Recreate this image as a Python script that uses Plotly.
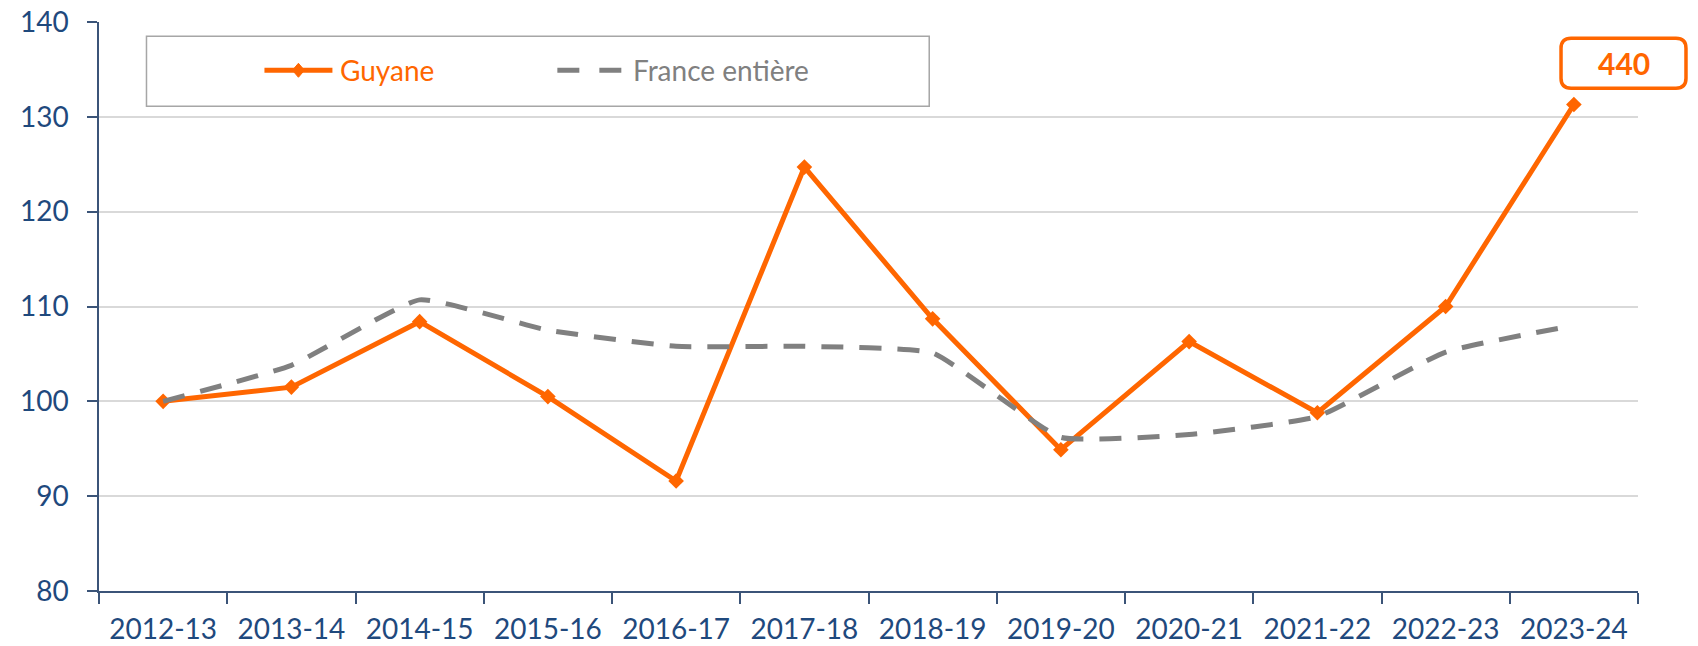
import plotly.graph_objects as go

categories = ["2012-13", "2013-14", "2014-15", "2015-16", "2016-17", "2017-18",
              "2018-19", "2019-20", "2020-21", "2021-22", "2022-23", "2023-24"]
guyane = [100, 101.5, 108.4, 100.5, 91.6, 124.7, 108.7, 94.9, 106.3, 98.8, 110.0, 131.3]
france = [100, 103.8, 110.7, 107.5, 105.8, 105.8, 105.1, 96.2, 96.5, 98.4, 105.2, 108.0]
series_names = ["Guyane", "France entière"]
last_label = "440"
y_ticks = [80, 90, 100, 110, 120, 130, 140]

ORANGE = "#FF6600"
GRAY = "#808080"
AXIS = "#3B5478"
TICKC = "#1F497D"
FONT = "Lato"

fig = go.Figure()
fig.add_trace(go.Scatter(
    x=categories, y=guyane, mode="lines+markers", name=series_names[0],
    line=dict(color=ORANGE, width=5),
    marker=dict(symbol="diamond", size=12, color=ORANGE),
    showlegend=False,
))
fig.add_trace(go.Scatter(
    x=categories, y=france, mode="lines", name=series_names[1],
    line=dict(color=GRAY, width=5, dash="22px,16px", shape="spline", smoothing=0.4),
    showlegend=False,
))

# page body has an 8px margin: figure is drawn at (8, 8) in the window
OFF = 8
W, H = 1690, 638
PL, PR, PT, PB = 98.5, 1638, 21.7, 591   # plot area in window pixels
pw, ph = PR - PL, PB - PT
ml, mt = PL - OFF, PT - OFF
mr, mb = W - (PR - OFF), H - (PB - OFF)

def px_x(x):
    return (x - PL) / pw

def px_y(y):
    return 1 - (y - PT) / ph

# legend frame
fig.add_shape(type="rect", xref="paper", yref="paper",
              x0=px_x(146), x1=px_x(929), y0=px_y(106), y1=px_y(36),
              line=dict(color="#A6A6A6", width=1.5), fillcolor="white", layer="below")
ly = px_y(70)
# Guyane legend entry
fig.add_shape(type="line", xref="paper", yref="paper", x0=px_x(264), x1=px_x(332),
              y0=ly, y1=ly, line=dict(color=ORANGE, width=5))
dx, dy = 6 / pw, 7 / ph
cx = px_x(298)
fig.add_shape(type="path", xref="paper", yref="paper",
              path=f"M {cx-dx},{ly} L {cx},{ly+dy} L {cx+dx},{ly} L {cx},{ly-dy} Z",
              line=dict(color=ORANGE, width=1), fillcolor=ORANGE)
fig.add_annotation(xref="paper", yref="paper", x=px_x(338), y=ly, text=series_names[0],
                   showarrow=False, xanchor="left", yanchor="middle",
                   font=dict(family=FONT, size=28, color=ORANGE))
# France legend entry
fig.add_shape(type="line", xref="paper", yref="paper", x0=px_x(557), x1=px_x(621),
              y0=ly, y1=ly, line=dict(color=GRAY, width=5, dash="22px,20px"))
fig.add_annotation(xref="paper", yref="paper", x=px_x(631), y=ly, text=series_names[1],
                   showarrow=False, xanchor="left", yanchor="middle",
                   font=dict(family=FONT, size=28, color=GRAY))

# rounded box for last label
x0, x1 = px_x(1561), px_x(1686)
y0, y1 = px_y(88), px_y(38)
rx, ry = 10 / pw, 10 / ph
path = (f"M {x0+rx},{y1} L {x1-rx},{y1} Q {x1},{y1} {x1},{y1-ry} "
        f"L {x1},{y0+ry} Q {x1},{y0} {x1-rx},{y0} L {x0+rx},{y0} "
        f"Q {x0},{y0} {x0},{y0+ry} L {x0},{y1-ry} Q {x0},{y1} {x0+rx},{y1} Z")
fig.add_shape(type="path", xref="paper", yref="paper", path=path,
              line=dict(color=ORANGE, width=3.5), fillcolor="white")
fig.add_annotation(xref="paper", yref="paper", x=(x0 + x1) / 2, y=(y0 + y1) / 2,
                   text=f"<b>{last_label}</b>", showarrow=False,
                   font=dict(family=FONT, size=30, color=ORANGE),
                   xanchor="center", yanchor="middle")

fig.update_layout(
    width=W, height=H,
    margin=dict(l=ml, r=mr, t=mt, b=mb, autoexpand=False),
    paper_bgcolor="white", plot_bgcolor="white",
    font=dict(family=FONT, size=28, color=TICKC),
    showlegend=False,
)
fig.update_xaxes(
    type="category", range=[-0.5, 11.5], tickson="boundaries", automargin=False,
    ticks="outside", ticklen=11, tickwidth=1.5, tickcolor=AXIS,
    showline=True, linecolor=AXIS, linewidth=1.5, showgrid=False,
    tickfont=dict(family=FONT, size=28, color=TICKC), ticklabelstandoff=13,
    ticklabeloverflow="allow",
)
fig.update_yaxes(
    range=[80, 140], tickvals=y_ticks, ticks="outside", ticklen=10, tickwidth=1.5,
    automargin=False, ticklabeloverflow="allow",
    tickcolor=AXIS, showline=True, linecolor=AXIS, linewidth=1.5,
    showgrid=True, gridcolor="#D9D9D9", gridwidth=1.5, zeroline=False,
    tickfont=dict(family=FONT, size=28, color=TICKC), ticklabelstandoff=13,
)

fig.write_html("out.html")
